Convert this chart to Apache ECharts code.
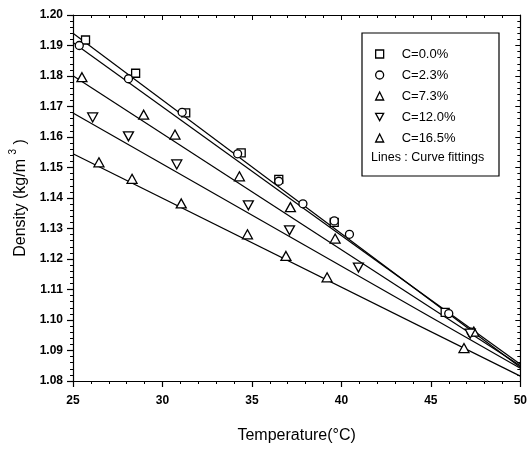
<!DOCTYPE html>
<html>
<head>
<meta charset="utf-8">
<script src="https://cdn.jsdelivr.net/npm/echarts@6/dist/echarts.min.js"></script>
<style>
html,body{margin:0;padding:0;background:#fff;}
#chart{width:530px;height:449px;}
</style>
</head>
<body>
<div id="chart"></div>
<script>
// ---- data ----
var seriesNames = ['C=0.0%', 'C=2.3%', 'C=7.3%', 'C=12.0%', 'C=16.5%'];

var temp00 = [25.7, 28.5, 31.3, 34.4, 36.5, 39.6, 45.8];
var dens00 = [1.1918, 1.1809, 1.1679, 1.1548, 1.1461, 1.1320, 1.1025];

var temp23 = [25.35, 28.1, 31.1, 34.2, 36.5, 37.85, 39.6, 40.45, 46.0, 47.25];
var dens23 = [1.1900, 1.1791, 1.1681, 1.1545, 1.1455, 1.1381, 1.1325, 1.1281, 1.1021, 1.0960];

var temp73 = [25.5, 28.95, 30.7, 34.3, 37.15, 39.65, 47.4];
var dens73 = [1.1796, 1.1673, 1.1608, 1.1471, 1.1370, 1.1267, 1.0962];

var temp120 = [26.1, 28.1, 30.8, 34.8, 37.1, 40.95, 47.2];
var dens120 = [1.1664, 1.1602, 1.1510, 1.1376, 1.1294, 1.1172, 1.0955];

var temp165 = [26.45, 28.3, 31.05, 34.75, 36.9, 39.2, 46.85];
var dens165 = [1.1517, 1.1463, 1.1382, 1.1281, 1.1210, 1.1140, 1.0908];

// fitted lines: density at the two ends of the temperature range
var fitTemp = [25, 50];
var fit00 = [1.1940, 1.0845];
var fit23 = [1.1910, 1.0855];
var fit73 = [1.1801, 1.0850];
var fit120 = [1.1679, 1.0842];
var fit165 = [1.1545, 1.0816];

var xTicks = [25, 30, 35, 40, 45, 50];
var yMin = 1.08, yMax = 1.20;

// ---- build ----
function pairs(xs, ys) { return xs.map(function (x, i) { return [x, ys[i]]; }); }

var temps = [temp00, temp23, temp73, temp120, temp165];
var dens = [dens00, dens23, dens73, dens120, dens165];
var fits = [fit00, fit23, fit73, fit120, fit165];
var symbols = ['rect', 'circle', 'triangle', 'triangle', 'triangle'];
var rotates = [0, 0, 0, 180, 0];
var sizes = [[8, 8], 8, [10, 9], [10, 9], [10, 9]];
var legendIcons = ['rect', 'circle', 'triangle', 'path://M0,0 L10,0 L5,9 Z', 'triangle'];

var FONT = 'Liberation Sans, Arial, sans-serif';

var series = [];
for (var i = 0; i < 5; i++) {
  series.push({
    type: 'line',
    name: 'fit' + i,
    data: pairs(fitTemp, fits[i]),
    showSymbol: false,
    symbol: 'none',
    lineStyle: { color: '#000', width: 1.2 },
    silent: true,
    z: 2
  });
}
for (var j = 0; j < 5; j++) {
  series.push({
    type: 'scatter',
    name: seriesNames[j],
    data: pairs(temps[j], dens[j]),
    symbol: symbols[j],
    symbolRotate: rotates[j],
    symbolSize: sizes[j],
    itemStyle: { color: '#fff', borderColor: '#000', borderWidth: 1.3, opacity: 1 },
    z: 3
  });
}

var chart = echarts.init(document.getElementById('chart'), null, { renderer: 'canvas' });
chart.setOption({
  backgroundColor: '#fff',
  animation: false,
  textStyle: { fontFamily: FONT },
  grid: { left: 73, right: 3, top: 15, bottom: 67, containLabel: false },
  xAxis: [{
    type: 'value',
    min: xTicks[0], max: xTicks[xTicks.length - 1], interval: 5,
    position: 'bottom',
    name: 'Temperature(°C)',
    nameLocation: 'middle',
    nameGap: 47,
    nameTextStyle: { fontFamily: FONT, fontSize: 16, color: '#000' },
    axisLine: { lineStyle: { color: '#000', width: 1.2 } },
    axisTick: { inside: false, length: 6, lineStyle: { color: '#000', width: 1.2 } },
    minorTick: { show: true, splitNumber: 5, length: 3, lineStyle: { color: '#000', width: 1 } },
    axisLabel: { margin: 14, color: '#000', fontFamily: FONT, fontSize: 12, fontWeight: 'bold' },
    splitLine: { show: false }
  }, {
    type: 'value',
    min: xTicks[0], max: xTicks[xTicks.length - 1], interval: 5,
    position: 'top',
    axisLine: { lineStyle: { color: '#000', width: 1.2 } },
    axisTick: { inside: true, length: 5, lineStyle: { color: '#000' } },
    minorTick: { show: true, splitNumber: 5, length: 3, lineStyle: { color: '#000' } },
    axisLabel: { show: false },
    splitLine: { show: false }
  }],
  yAxis: [{
    type: 'value',
    min: yMin, max: yMax, interval: 0.01,
    position: 'left',
    name: 'Density (kg/m {sup|3} )',
    nameLocation: 'middle',
    nameGap: 38,
    nameRotate: 90,
    nameTextStyle: {
      fontFamily: FONT, fontSize: 16, color: '#000',
      rich: { sup: { fontSize: 10, fontFamily: FONT, color: '#000', padding: [0, 0, 14, 0] } }
    },
    axisLine: { lineStyle: { color: '#000', width: 1.2 } },
    axisTick: { inside: false, length: 6, lineStyle: { color: '#000', width: 1.2 } },
    minorTick: { show: true, splitNumber: 5, length: 3, lineStyle: { color: '#000', width: 1 } },
    axisLabel: {
      margin: 10, color: '#000', fontFamily: FONT, fontSize: 12, fontWeight: 'bold',
      formatter: function (v) { return v.toFixed(2); }
    },
    splitLine: { show: false }
  }, {
    type: 'value',
    min: yMin, max: yMax, interval: 0.01,
    position: 'right',
    axisLine: { lineStyle: { color: '#000', width: 1.2 } },
    axisTick: { inside: true, length: 5, lineStyle: { color: '#000' } },
    minorTick: { show: true, splitNumber: 5, length: 3, lineStyle: { color: '#000' } },
    axisLabel: { show: false },
    splitLine: { show: false }
  }],
  legend: {
    left: 375, top: 47, orient: 'vertical',
    padding: 0,
    itemWidth: 8, itemHeight: 8, itemGap: 7,
    selectedMode: false,
    data: seriesNames.map(function (n, k) { return { name: n, icon: legendIcons[k] }; }),
    itemStyle: { color: '#fff', borderColor: '#000', borderWidth: 1.3 },
    textStyle: { fontFamily: FONT, fontSize: 13, color: '#000', lineHeight: 14, padding: [0, 0, 0, 13] }
  },
  graphic: [{
    type: 'rect',
    shape: { x: 362, y: 33, width: 137, height: 143 },
    style: { fill: 'none', stroke: '#000', lineWidth: 1.2 },
    z: 10
  }, {
    type: 'text',
    x: 371, y: 158,
    style: { text: 'Lines : Curve fittings', font: '12.5px ' + FONT, fill: '#000', verticalAlign: 'middle' },
    z: 10
  }],
  series: series
});
</script>
</body>
</html>
